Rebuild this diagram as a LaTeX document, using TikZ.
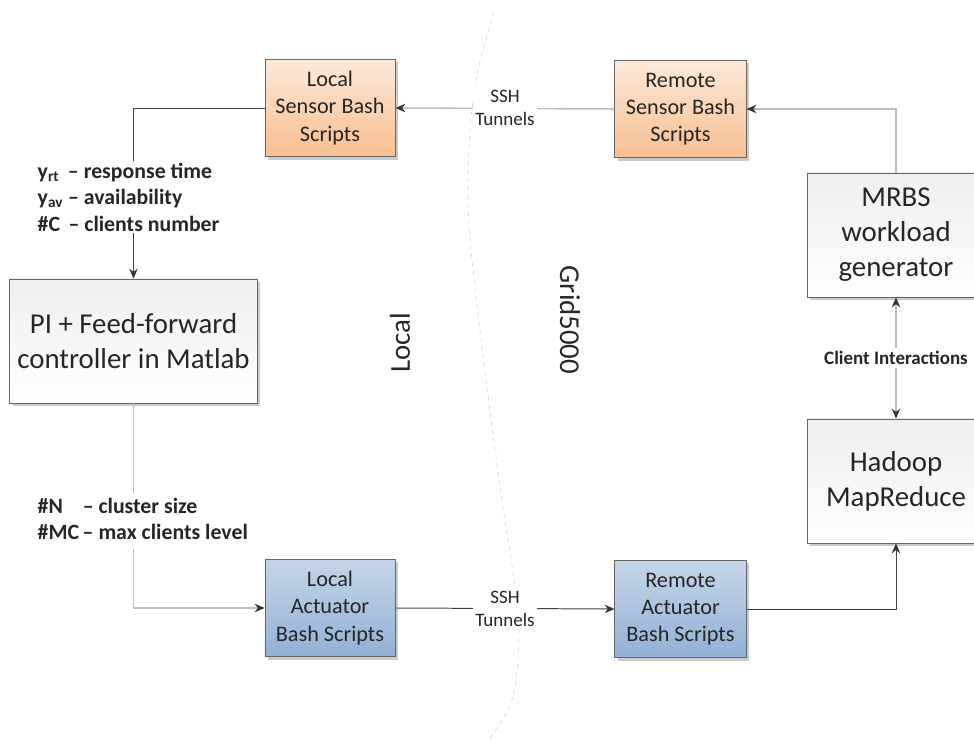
\documentclass[tikz,border=0pt]{standalone}
\usepackage{fontspec}
\setmainfont{Carlito}
\usetikzlibrary{arrows.meta,shadows}

\definecolor{txtgray}{RGB}{38,38,38}
\definecolor{orgtop}{RGB}{253,233,217}
\definecolor{orgbot}{RGB}{247,190,145}
\definecolor{bluetop}{RGB}{198,213,233}
\definecolor{bluebot}{RGB}{146,176,213}
\definecolor{graytop}{RGB}{238,239,239}
\definecolor{darkline}{RGB}{64,64,64}
\definecolor{lightline}{RGB}{190,190,190}

\begin{document}
\begin{tikzpicture}[x=0.025cm, y=-0.025cm, text=txtgray,
  box/.style={draw=black!60, line width=0.6pt, align=center, inner sep=0pt,
    drop shadow={shadow xshift=0.07cm, shadow yshift=-0.07cm, fill=black!35, opacity=0.6}},
  smallbox/.style={box, minimum width=3.25cm, minimum height=2.44cm,
    font=\fontsize{15.8}{19.3}\selectfont},
  bigbox/.style={box, top color=graytop, bottom color=white, minimum height=3.1cm,
    font=\fontsize{20.5}{24.8}\selectfont},
  sensorbox/.style={smallbox, top color=orgtop, bottom color=orgbot},
  actbox/.style={smallbox, top color=bluetop, bottom color=bluebot},
  dark/.style={draw=darkline, line width=0.7pt},
  light/.style={draw=lightline, line width=1.1pt},
  tip/.style={-{Stealth[length=7pt,width=6pt,color=black!80]}},
  sig/.style={fill=white, inner sep=1pt, align=left, font=\bfseries\fontsize{15.5}{18.9}\selectfont},
  ssh/.style={fill=white, inner sep=2pt, align=center, font=\fontsize{13.5}{16.3}\selectfont},
  side/.style={font=\fontsize{20.5}{24}\selectfont}]
  \clip (0,0) rectangle (974,740);

  % boundary between the two sites
  \draw[lightline!70, dashed, line width=0.4pt] plot[smooth] coordinates
    {(494,12) (478,70) (470,130) (468,200) (472,260) (486,380) (502,500) (514,580) (519,640) (512,700) (490,738)};
  \node[side, rotate=90] (localside) at (400,343) {Local};
  \node[side, rotate=-90] (gridside) at (570,320) {Grid5000};

  % blocks
  \node[sensorbox] (lsensor) at (330,108) {Local\\Sensor Bash\\Scripts};
  \node[sensorbox, minimum width=3.28cm] (rsensor) at (680.5,109) {Remote\\Sensor Bash\\Scripts};
  \node[bigbox, minimum width=6.18cm] (pi) at (133.5,341) {PI + Feed-forward\\controller in Matlab};
  \node[bigbox, minimum width=4.45cm] (mrbs) at (896,235) {MRBS\\workload\\generator};
  \node[bigbox, minimum width=4.45cm] (hadoop) at (896,481) {Hadoop\\MapReduce};
  \node[actbox] (lact) at (330,608) {Local\\Actuator\\Bash Scripts};
  \node[actbox, minimum width=3.28cm] (ract) at (680.5,609) {Remote\\Actuator\\Bash Scripts};

  % connectors
  \draw[dark, tip] (lsensor.west) -| (pi.north);
  \draw[light, tip] (pi.south) |- (lact.west);
  \draw[dark, tip] (lact.east) -- (ract.west);
  \draw[dark, tip] (ract.east) -| (hadoop.south);
  \draw[light, tip] (mrbs.north) |- (rsensor.east);
  \draw[light, tip] (rsensor.west) -- (lsensor.east);
  \draw[light, {Stealth[length=7pt,width=6pt,color=black!80]}-{Stealth[length=7pt,width=6pt,color=black!80]}] (mrbs.south) -- (hadoop.north);

  % labels
  \node[sig, anchor=west] (outputs) at (36,197)
    {y\textsubscript{rt}\ \,-- response time\\y\textsubscript{av} -- availability\\\#C\ \,-- clients number};
  \node[sig, anchor=west] (inputs) at (36,521)
    {\begin{tabular}{@{}l@{\,}l@{}}\#N & -- cluster size\\\#MC & -- max clients level\end{tabular}};
  \node[ssh] (sshtop) at (505,108) {SSH\\Tunnels};
  \node[ssh] (sshbot) at (505,609) {SSH\\Tunnels};
  \node[fill=white, inner sep=2pt, font=\bfseries\fontsize{13.5}{15}\selectfont] (clients) at (896,358) {Client Interactions};
\end{tikzpicture}
\end{document}
